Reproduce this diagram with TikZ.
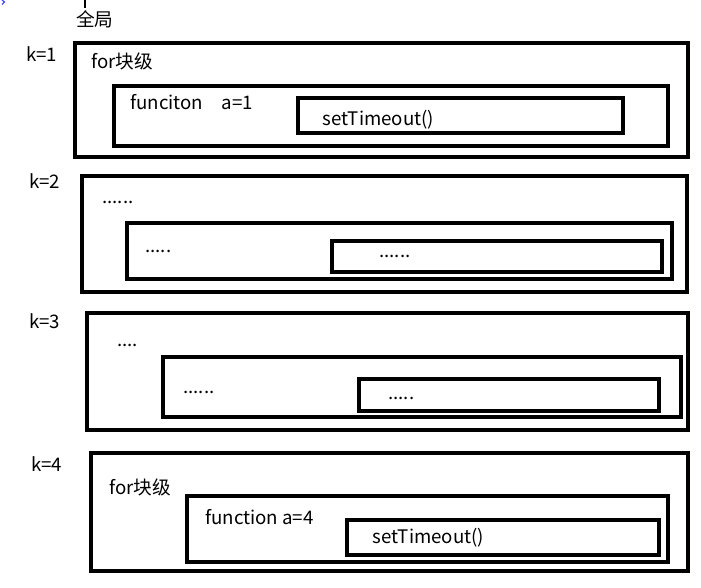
\documentclass[tikz,border=0pt]{standalone}
\usepackage{fontspec}
\setmainfont{Noto Sans CJK SC}
\usetikzlibrary{fit}
\begin{document}
\begin{tikzpicture}[x=0.75pt,y=-0.75pt,
  box/.style={draw=black, line width=2.4pt, inner sep=0pt},
  lbl/.style={anchor=base west, inner sep=0pt, font=\fontsize{14}{16}\selectfont}]
\useasboundingbox (0,0) rectangle (701,588);
% cursor artifacts
\draw[blue!70, line width=0.9pt] (2,0) -- (4.5,2) -- (2,4.5);
\draw[black, line width=0.8pt] (85,0) -- (85,8);
\node[lbl] (glob) at (76,27) {全局};
% group 1
\node[lbl] (k1) at (26,62) {k=1};
\node[box, fit={(75,43) (688,157)}] (o1) {};
\node[box, fit={(114,86) (668,146)}] (m1) {};
\node[box, fit={(298,98) (623,133)}] (i1) {};
\node[lbl] (t1a) at (91,69) {for块级};
\node[lbl] (t1b) at (130,110) {funciton\hspace{14pt}a=1};
\node[lbl] (t1c) at (322,126) {setTimeout()};
% group 2
\node[lbl] (k2) at (29,189) {k=2};
\node[box, fit={(82,176) (687,292)}] (o2) {};
\node[box, fit={(127,223) (672,279)}] (m2) {};
\node[box, fit={(332,241) (662,272)}] (i2) {};
\node[lbl] (t2a) at (102,204) {......};
\node[lbl] (t2b) at (145,253) {.....};
\node[lbl] (t2c) at (379,258) {......};
% group 3
\node[lbl] (k3) at (29,329) {k=3};
\node[box, fit={(87,313) (688,430)}] (o3) {};
\node[box, fit={(163,357) (681,417)}] (m3) {};
\node[box, fit={(359,379) (659,411)}] (i3) {};
\node[lbl] (t3a) at (117,347) {....};
\node[lbl] (t3b) at (183,394) {......};
\node[lbl] (t3c) at (388,400) {.....};
% group 4
\node[lbl] (k4) at (31,472) {k=4};
\node[box, fit={(91,453) (688,571)}] (o4) {};
\node[box, fit={(187,496) (668,562)}] (m4) {};
\node[box, fit={(347,520) (659,555)}] (i4) {};
\node[lbl] (t4a) at (109,494) {for块级};
\node[lbl] (t4b) at (205,524) {function a=4};
\node[lbl] (t4c) at (372,543) {setTimeout()};
\end{tikzpicture}
\end{document}
